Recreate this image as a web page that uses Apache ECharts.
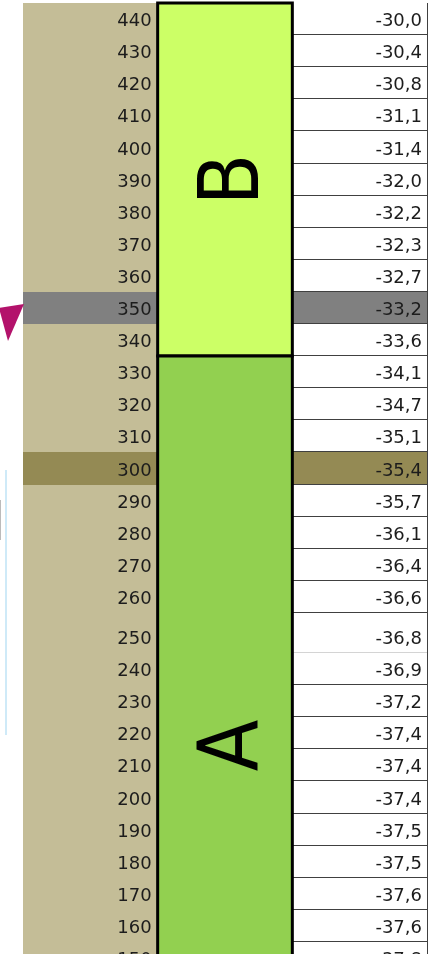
<!DOCTYPE html>
<html><head><meta charset="utf-8">
<script src="https://cdn.jsdelivr.net/npm/echarts@6/dist/echarts.min.js"></script>
<style>html,body{margin:0;padding:0;background:#fff}#c{width:429px;height:954px}</style>
</head><body><div id="c"></div>
<script>
// ---- data ----
const depths = [440,430,420,410,400,390,380,370,360,350,340,330,320,310,300,290,280,270,260,250,240,230,220,210,200,190,180,170,160,150];
const values = [-30.0,-30.4,-30.8,-31.1,-31.4,-32.0,-32.2,-32.3,-32.7,-33.2,-33.6,-34.1,-34.7,-35.1,-35.4,-35.7,-36.1,-36.4,-36.6,-36.8,-36.9,-37.2,-37.4,-37.4,-37.4,-37.5,-37.5,-37.6,-37.6,-37.8];
const zoneNames = ['B','A'];
const zoneTopDepth = [440, 330];
const zoneBottomDepth = [340, 100];
const grayRows = [350];
const oliveRows = [300];
const arrowRow = 350;
const tallRow = 250;

// ---- styles / layout ----
const ROW_PX = 32.1, TALL_EXTRA = 0.25;
const GRID_TOP = 3, H = 954;
const Y_UNITS = (H - GRID_TOP) / ROW_PX;
const zoneColors = {B:'#CCFF66', A:'#92D050'};
const TAN = '#C4BD97', GRAY = '#808080', OLIVE = '#948A54';
const TXT = '#1c1c1c';
const FONT = '18px "DejaVu Sans"';

function rowSpan(d){
  const top = (depths[0]-d)/10 + (d < tallRow ? TALL_EXTRA : 0);
  return [top, top + 1 + (d === tallRow ? TALL_EXTRA : 0)];
}
function fmt(v){ return v.toFixed(1).replace('.', ','); }
function cellBox(api, d){
  const [u0,u1] = rowSpan(d);
  const r = p => [p[0], Math.round(p[1])];
  return {a: r(api.coord([0,u0])), b: r(api.coord([1,u1])), c: r(api.coord([2,u0])), e: r(api.coord([3,u1]))};
}

const chart = echarts.init(document.getElementById('c'), null, {renderer:'canvas'});
chart.setOption({
  animation:false,
  backgroundColor:'#ffffff',
  grid:{left:23, right:2, top:GRID_TOP, bottom:0},
  xAxis:{type:'value', min:0, max:3, show:false},
  yAxis:{type:'value', min:0, max:Y_UNITS, inverse:true, show:false},
  graphic:[
    {type:'rect', shape:{x:5,y:470,width:2,height:265}, style:{fill:'#CFEAF8'}},
    {type:'rect', shape:{x:0,y:500,width:1,height:40}, style:{fill:'#BBBBBB'}}
  ],
  series:[
    {
      type:'custom', z:2, clip:false,
      data: depths.map((d,i)=>[i]),
      renderItem(params, api){
        const i = api.value(0), d = depths[i];
        const {a,b,c,e} = cellBox(api, d);
        let fillTan = TAN, fillVal = '#ffffff';
        if (grayRows.includes(d)) { fillTan = GRAY; fillVal = GRAY; }
        if (oliveRows.includes(d)) { fillTan = OLIVE; fillVal = OLIVE; }
        const children = [
          {type:'rect', shape:{x:Math.round(a[0]), y:a[1], width:Math.round(b[0])-Math.round(a[0]), height:b[1]-a[1]}, style:{fill:fillTan}},
          {type:'rect', shape:{x:c[0], y:c[1], width:e[0]-c[0], height:e[1]-c[1]}, style:{fill:fillVal}}
        ];
        if (d === arrowRow) {
          const L = Math.round(a[0]), T = a[1];
          children.push({type:'polygon', shape:{points:[[L+1,T+12],[L-24,T+16],[L-15,T+49]]}, style:{fill:'#B3126B'}});
        }
        return {type:'group', children};
      }
    },
    {
      type:'custom', z:3, clip:false,
      data: depths.map((d,i)=>[i]),
      renderItem(params, api){
        const i = api.value(0), d = depths[i];
        const {a,b,c,e} = cellBox(api, d);
        const yb = e[1] - 0.5;
        const xr = Math.round(e[0]) + 0.5;
        return {type:'group', children:[
          {type:'line', shape:{x1:c[0], y1:yb, x2:xr, y2:yb}, style:{stroke: d===tallRow ? '#D4D4D4' : '#404040', lineWidth:1}},
          {type:'line', shape:{x1:xr, y1:c[1], x2:xr, y2:e[1]}, style:{stroke:'#404040', lineWidth:1}},
          {type:'text', x:b[0]-6, y:b[1]-14, style:{text:String(d), font:FONT, fill:TXT, align:'right', verticalAlign:'middle'}},
          {type:'text', x:e[0]-5, y:e[1]-14, style:{text:fmt(values[i]), font:FONT, fill:TXT, align:'right', verticalAlign:'middle'}}
        ]};
      }
    },
    {
      type:'custom', z:5, clip:false,
      data: zoneNames.map((n,i)=>[i]),
      renderItem(params, api){
        const i = api.value(0);
        const u0 = rowSpan(zoneTopDepth[i])[0], u1 = rowSpan(zoneBottomDepth[i])[1];
        const p = api.coord([1,u0]), q = api.coord([2,u1]);
        const cx = (p[0]+q[0])/2 + 11, cy = (p[1]+q[1])/2;
        return {type:'group', children:[
          {type:'rect', shape:{x:p[0], y:Math.round(p[1]), width:q[0]-p[0], height:Math.round(q[1])-Math.round(p[1])}, style:{fill:zoneColors[zoneNames[i]], stroke:'#000', lineWidth:3}},
          {type:'text', x:cx, y:cy, rotation:Math.PI/2, scaleX:0.9, scaleY:1,
           style:{text:zoneNames[i], font:'84px "DejaVu Sans"', fill:'#000', align:'center', verticalAlign:'middle'}}
        ]};
      }
    }
  ]
});
</script>
</body></html>
